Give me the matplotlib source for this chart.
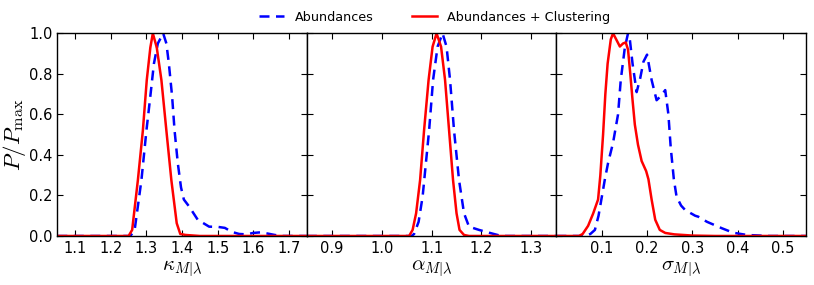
import numpy as np
import matplotlib
matplotlib.use("Agg")
import matplotlib.pyplot as plt

plt.rcParams['mathtext.fontset'] = 'cm'
plt.rcParams['font.family'] = ['DejaVu Sans']

# Panel 1: kappa
kappa_ab_x = [1.05, 1.255, 1.267, 1.286, 1.30, 1.311, 1.321, 1.332, 1.347, 1.356, 1.363, 1.372, 1.379,
              1.388, 1.397, 1.405, 1.42, 1.444, 1.476, 1.50, 1.52, 1.54, 1.56, 1.58, 1.60, 1.62, 1.64,
              1.66, 1.68, 1.75]
kappa_ab_y = [0, 0, 0.03, 0.276, 0.52, 0.69, 0.85, 0.95, 1.0, 0.95, 0.85, 0.69, 0.52,
              0.36, 0.24, 0.18, 0.145, 0.08, 0.046, 0.045, 0.04, 0.02, 0.01, 0.008, 0.015, 0.018, 0.012,
              0.005, 0.0, 0]
kappa_cl_x = [1.05, 1.25, 1.26, 1.276, 1.29, 1.301, 1.311, 1.318, 1.329, 1.342, 1.356, 1.370, 1.385,
              1.395, 1.41, 1.45, 1.75]
kappa_cl_y = [0, 0, 0.03, 0.275, 0.52, 0.77, 0.93, 1.0, 0.93, 0.77, 0.52, 0.275, 0.063,
              0.01, 0.005, 0, 0]

# Panel 2: alpha
alpha_ab_x = [0.85, 1.06, 1.065, 1.074, 1.082, 1.095, 1.103, 1.112, 1.122, 1.130, 1.137, 1.145, 1.155,
              1.165, 1.175, 1.195, 1.22, 1.24, 1.35]
alpha_ab_y = [0, 0, 0.01, 0.07, 0.194, 0.52, 0.77, 0.934, 1.0, 0.934, 0.77, 0.52, 0.276,
              0.112, 0.046, 0.03, 0.013, 0, 0]
alpha_cl_x = [0.85, 1.055, 1.062, 1.069, 1.077, 1.085, 1.094, 1.102, 1.110, 1.119, 1.127, 1.135, 1.143,
              1.150, 1.156, 1.165, 1.175, 1.35]
alpha_cl_y = [0, 0, 0.03, 0.112, 0.276, 0.523, 0.77, 0.934, 1.0, 0.934, 0.77, 0.523, 0.276,
              0.112, 0.03, 0.005, 0, 0]

# Panel 3: sigma
sigma_ab_x = [0.0, 0.065, 0.075, 0.085, 0.093, 0.10, 0.107, 0.114, 0.125, 0.136, 0.142, 0.151, 0.158,
              0.161, 0.168, 0.177, 0.185, 0.192, 0.20, 0.21, 0.221, 0.23, 0.24, 0.247, 0.252, 0.259,
              0.265, 0.275, 0.284, 0.306, 0.313, 0.332, 0.365, 0.39, 0.42, 0.45, 0.47, 0.55]
sigma_ab_y = [0, 0, 0.01, 0.03, 0.1, 0.19, 0.28, 0.36, 0.46, 0.6, 0.77, 0.93, 1.0,
              0.99, 0.85, 0.71, 0.78, 0.86, 0.895, 0.77, 0.67, 0.69, 0.72, 0.6, 0.44, 0.28,
              0.194, 0.15, 0.128, 0.10, 0.095, 0.07, 0.038, 0.016, 0.005, 0.002, 0, 0]
sigma_cl_x = [0.0, 0.05, 0.058, 0.07, 0.081, 0.092, 0.097, 0.103, 0.108, 0.113, 0.12, 0.125, 0.132,
              0.14, 0.147, 0.153, 0.158, 0.163, 0.168, 0.173, 0.18, 0.188, 0.198, 0.203, 0.21, 0.218,
              0.228, 0.24, 0.26, 0.30, 0.35, 0.55]
sigma_cl_y = [0, 0, 0.01, 0.05, 0.11, 0.18, 0.3, 0.5, 0.7, 0.85, 0.97, 1.0, 0.97,
              0.935, 0.95, 0.955, 0.92, 0.8, 0.67, 0.55, 0.45, 0.37, 0.32, 0.28, 0.18, 0.08,
              0.03, 0.015, 0.008, 0.002, 0, 0]

xlabels = [r'$\kappa_{M|\lambda}$', r'$\alpha_{M|\lambda}$', r'$\sigma_{M|\lambda}$']
xlims = [(1.05, 1.75), (0.85, 1.35), (0.0, 0.55)]
xticks = [[1.1, 1.2, 1.3, 1.4, 1.5, 1.6, 1.7],
          [0.9, 1.0, 1.1, 1.2, 1.3],
          [0.1, 0.2, 0.3, 0.4, 0.5]]
yticks = [0.0, 0.2, 0.4, 0.6, 0.8, 1.0]

data = [(kappa_ab_x, kappa_ab_y, kappa_cl_x, kappa_cl_y),
        (alpha_ab_x, alpha_ab_y, alpha_cl_x, alpha_cl_y),
        (sigma_ab_x, sigma_ab_y, sigma_cl_x, sigma_cl_y)]

fig = plt.figure(figsize=(8.14, 2.85), dpi=100)
left, right, bottom, top = 0.0704, 0.990, 0.172, 0.883
w = (right - left) / 3
axes = []
for i in range(3):
    ax = fig.add_axes([left + i * w, bottom, w, top - bottom])
    axes.append(ax)
    abx, aby, clx, cly = data[i]
    l1, = ax.plot(abx, aby, color='b', ls='--', lw=1.8, dashes=(4, 2.6), label='Abundances')
    l2, = ax.plot(clx, cly, color='r', ls='-', lw=1.8, label='Abundances + Clustering')
    ax.set_xlim(*xlims[i])
    ax.set_ylim(0, 1)
    ax.set_xticks(xticks[i])
    ax.set_yticks(yticks)
    ax.tick_params(direction='in', top=True, right=True, labelsize=10.5, length=4, width=0.8)
    ax.set_xlabel(xlabels[i], fontsize=15, labelpad=2)
    if i == 0:
        ax.set_ylabel(r'$P/P_{\rm max}$', fontsize=16.5, labelpad=1)
    else:
        ax.set_yticklabels([])
    for s in ax.spines.values():
        s.set_linewidth(1.0)

fig.legend(handles=[l1, l2], loc='center', bbox_to_anchor=(0.534, 0.94), ncol=2, frameon=False,
           fontsize=9.2, handlelength=2.0, columnspacing=3.0, handletextpad=0.8)

fig.savefig('out.png', dpi=100)
